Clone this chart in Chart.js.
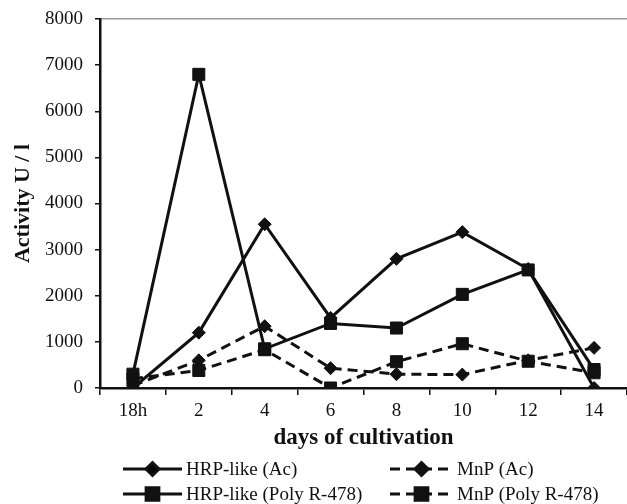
<!DOCTYPE html>
<html>
<head>
<meta charset="utf-8">
<script src="https://cdn.jsdelivr.net/npm/chart.js@4.4.0/dist/chart.umd.min.js"></script>
<style>
  html, body { margin: 0; padding: 0; background: #fff; }
  #wrap { width: 627px; height: 504px; }
</style>
</head>
<body>
<div id="wrap"><canvas id="activityChart" width="627" height="504"></canvas></div>
<script>
// Data
const days = ['18h', '2', '4', '6', '8', '10', '12', '14'];
const hrpAc = [0, 1200, 3550, 1520, 2800, 3380, 2580, 0];
const mnpAc = [50, 600, 1340, 430, 300, 290, 600, 870];
const hrpPoly = [300, 6800, 850, 1400, 1300, 2030, 2560, 400];
const mnpPoly = [200, 380, 830, 0, 570, 960, 580, 330];
const yTicks = [0, 1000, 2000, 3000, 4000, 5000, 6000, 7000, 8000];

const ink = '#111';
const serif = "'Liberation Serif', 'Times New Roman', serif";

function series(label, data, dashed, marker) {
    return {
        label: label,
        data: data,
        borderColor: ink,
        backgroundColor: ink,
        borderWidth: 3,
        borderDash: dashed ? [10, 6] : [],
        pointStyle: marker,
        pointRadius: marker === 'rect' ? 8.5 : 6.5,
        pointBorderWidth: 1,
        pointBackgroundColor: ink,
        pointBorderColor: ink,
        tension: 0,
        fill: false
    };
}

// Two-column legend drawn under the axis title
const legendPlugin = {
    id: 'pairLegend',
    afterDraw(chart) {
        const ctx = chart.ctx;
        const rows = [469, 494];
        const cols = [{ x0: 123, x1: 182 }, { x0: 390, x1: 453 }];
        const order = [[0, 1], [2, 3]];
        ctx.save();
        order.forEach((row, r) => {
            row.forEach((di, c) => {
                const ds = chart.data.datasets[di];
                const y = rows[r];
                const col = cols[c];
                ctx.strokeStyle = ink;
                ctx.lineWidth = 3;
                ctx.setLineDash(ds.borderDash);
                ctx.beginPath();
                ctx.moveTo(col.x0, y);
                ctx.lineTo(col.x1, y);
                ctx.stroke();
                ctx.setLineDash([]);
                Chart.helpers.drawPoint(ctx, {
                    pointStyle: ds.pointStyle,
                    radius: ds.pointStyle === 'rect' ? 9 : 6.5,
                    borderWidth: 1,
                    rotation: 0
                }, (col.x0 + col.x1) / 2, y);
                ctx.fillStyle = ink;
                ctx.font = '19px ' + serif;
                ctx.textBaseline = 'middle';
                ctx.textAlign = 'left';
                ctx.fillText(ds.label, col.x1 + 4, y + 1);
            });
        });
        ctx.restore();
    }
};

const ctx = document.getElementById('activityChart').getContext('2d');
new Chart(ctx, {
    type: 'line',
    data: {
        labels: days,
        datasets: [
            series('HRP-like (Ac)', hrpAc, false, 'rectRot'),
            series('MnP (Ac)', mnpAc, true, 'rectRot'),
            series('HRP-like (Poly R-478)', hrpPoly, false, 'rect'),
            series('MnP (Poly R-478)', mnpPoly, true, 'rect')
        ]
    },
    plugins: [legendPlugin],
    options: {
        responsive: false,
        animation: false,
        layout: { autoPadding: false, padding: { top: 19, right: 0, bottom: 0, left: 0 } },
        plugins: {
            legend: { display: false },
            tooltip: { enabled: false }
        },
        scales: {
            x: {
                offset: true,
                grid: {
                    offset: true,
                    drawOnChartArea: false,
                    color: ink,
                    tickColor: ink,
                    tickLength: 7,
                    lineWidth: 1.5
                },
                border: { color: ink, width: 2.5 },
                ticks: {
                    color: ink,
                    padding: 5,
                    maxRotation: 0,
                    font: { family: serif, size: 19 }
                },
                title: {
                    display: true,
                    text: 'days of cultivation',
                    color: ink,
                    font: { family: serif, size: 23, weight: 'bold' },
                    padding: { top: 4, bottom: 52 }
                },
                afterFit(scale) { scale.height = 116; }
            },
            y: {
                min: 0,
                max: 8000,
                afterBuildTicks(scale) {
                    scale.ticks = yTicks.map(v => ({ value: v }));
                },
                grid: {
                    color: c => c.tick && c.tick.value === 8000 ? '#999' : 'transparent',
                    tickColor: ink,
                    tickLength: 5,
                    lineWidth: 1.5
                },
                border: { color: ink, width: 2.5 },
                ticks: {
                    color: ink,
                    padding: 12,
                    font: { family: serif, size: 19 },
                    callback: v => String(v)
                },
                title: {
                    display: true,
                    text: 'Activity U / l',
                    color: ink,
                    font: { family: serif, size: 22, weight: 'bold' },
                    padding: { top: 10, bottom: 0 }
                },
                afterFit(scale) {
                    scale.width = 100;
                    scale.paddingTop = 0;
                    scale.paddingBottom = 0;
                }
            }
        }
    }
});
</script>
</body>
</html>
